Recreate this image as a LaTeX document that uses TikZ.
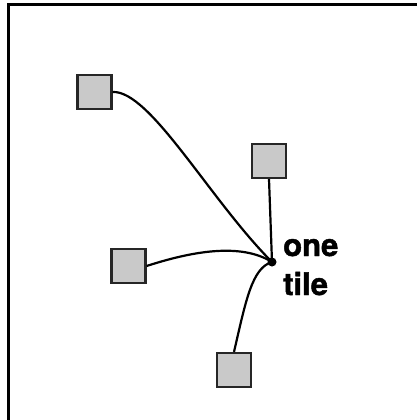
\documentclass[tikz,border=0pt]{standalone}
\usepackage{fontspec}
\setmainfont{TeX Gyre Heros}
\newfontfamily\tilefont{TeX Gyre Heros}[BoldFeatures={FakeBold=1.5}]
\begin{document}
\begin{tikzpicture}[x=1pt,y=-1pt,
  tilebox/.style={draw=black!85,fill=black!21,line width=2.2pt,minimum size=34pt,inner sep=0pt},
  wire/.style={line width=2.2pt,black},
  lbl/.style={font=\tilefont\bfseries\fontsize{31}{37}\selectfont,inner sep=0pt,anchor=base west}]
\useasboundingbox (0,0) rectangle (416,420);
\draw[line width=3pt] (8,5) rectangle (440,440);
\node[tilebox] (s1) at (94.5,92) {};
\node[tilebox] (s2) at (269,161) {};
\node[tilebox] (s3) at (128.5,266) {};
\node[tilebox] (s4) at (234,370) {};
\node[circle,fill=black,inner sep=0pt,minimum size=9pt] (c) at (272,262) {};
\node[lbl] (one) at (283,256) {one};
\node[lbl] (tile) at (283,295) {tile};
\draw[wire] (s1.east) .. controls (150,90) and (210,200) .. (c.center);
\draw[wire] (s2.south) -- (c.center);
\draw[wire] (s3.east) .. controls (190,252) and (240,242) .. (c.center);
\draw[wire] (s4.north) .. controls (246,300) and (252,268) .. (c.center);
\end{tikzpicture}
\end{document}
